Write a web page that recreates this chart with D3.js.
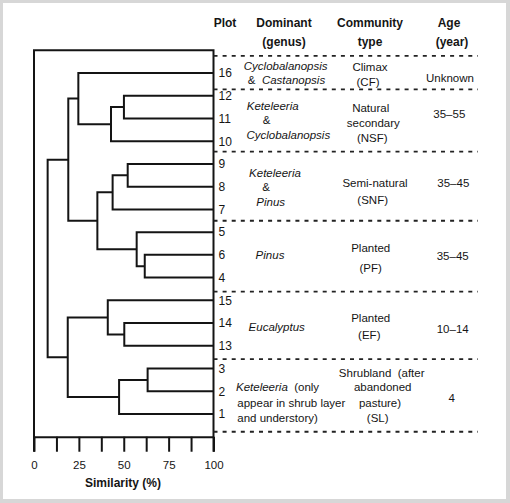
<!DOCTYPE html>
<html><head><meta charset="utf-8">
<script src="https://cdn.jsdelivr.net/npm/d3@7"></script>
<style>
body{margin:0;background:#fff}
text{font-family:"Liberation Sans",Arial,Helvetica,sans-serif;fill:#151515;white-space:pre}
</style>
</head><body>
<svg id="chart" width="510" height="503"></svg>
<script>
// ---------------- DATA ----------------
// leaf order (plot numbers, top to bottom)
const leaves = ["16","12","11","10","9","8","7","5","6","4","15","14","13","3","2","1"];
// cluster merges: [child A, child B, similarity (%)]; "cN" refers to merge N
const merges = [
  ["12","11",50.1],   // c0
  ["c0","10",42.9],   // c1
  ["16","c1",24.7],   // c2
  ["9","8",52.2],     // c3
  ["c3","7",43.8],    // c4
  ["6","4",61.7],     // c5
  ["5","c5",57.2],    // c6
  ["c4","c6",35.3],   // c7
  ["c2","c7",19.1],   // c8
  ["14","13",50.3],   // c9
  ["15","c9",41.1],   // c10
  ["3","2",63.3],     // c11
  ["c11","1",47.4],   // c12
  ["c10","c12",18.8], // c13
  ["c8","c13",7.6]    // c14 (root)
];
const tickValues = [0,12.5,25,37.5,50,62.5,75,87.5,100];
const tickLabels = [0,25,50,75,100];
const headers = [["Plot"],["Dominant","(genus)"],["Community","type"],["Age","(year)"]];
const groupCodes = ["CF","NSF","SNF","PF","EF","SL"];
const groupLeaves = [["16"],["12","11","10"],["9","8","7"],["5","6","4"],["15","14","13"],["3","2","1"]];
// *...* = italic
const dominantText = [
  ["*Cyclobalanopsis*", "&  *Castanopsis*"],
  ["*Keteleeria*", "&", "*Cyclobalanopsis*"],
  ["*Keteleeria*", "&", "*Pinus*"],
  ["*Pinus*"],
  ["*Eucalyptus*"],
  ["*Keteleeria*  (only", "appear in shrub layer", "and understory)"]
];
const communityText = [
  ["Climax","(CF)"],
  ["Natural","secondary","(NSF)"],
  ["Semi-natural","(SNF)"],
  ["Planted","(PF)"],
  ["Planted","(EF)"],
  ["Shrubland  (after","abandoned","pasture)","(SL)"]
];
const ageText = ["Unknown","35–55","35–45","35–45","10–14","4"];

// ---------------- LAYOUT ----------------
const svg = d3.select("#chart");
const W = 510, H = 503;
const ink = "#141414";

// outer grey border
svg.append("rect").attr("width",W).attr("height",H).attr("fill","#d7d7d7");
svg.append("rect").attr("x",3).attr("y",3).attr("width",503).attr("height",496).attr("fill","#fff");

const x = d3.scaleLinear().domain([0,100]).range([34,213.5]);
const y = d3.scalePoint().domain(leaves).range([73,414]);
const step = y.step();
const topY = y(leaves[0]) - step;
const axisY = y(leaves[leaves.length-1]) + step;
const tickLen = 15;

const g = svg.append("g");

// frame (top, left, right) of the dendrogram panel
g.append("path")
  .attr("d",`M${x(0)},${axisY+tickLen}V${topY}H${x(100)}V${axisY+tickLen}`)
  .attr("fill","none").attr("stroke",ink).attr("stroke-width",2);

// axis
const axis = d3.axisBottom(x).tickValues(tickValues).tickSize(tickLen).tickSizeOuter(0).tickPadding(9)
  .tickFormat(d => tickLabels.includes(d) ? d : "");
const ax = g.append("g").attr("transform",`translate(0,${axisY})`).call(axis);
ax.select(".domain").attr("stroke",ink).attr("stroke-width",2);
ax.selectAll(".tick line").attr("stroke",ink).attr("stroke-width",2);
ax.selectAll(".tick text").attr("fill","#151515").style("font-size","11.5px").style("font-family",'"Liberation Sans",Arial,sans-serif');

g.append("text").attr("x",123).attr("y",482.5).attr("dy","0.35em")
  .attr("text-anchor","middle").style("font-size","12px").style("font-weight","bold")
  .text("Similarity (%)");

// dendrogram
const nodes = {};
leaves.forEach(l => nodes[l] = {x:x(100), y:y(l)});
merges.forEach((m,i) => {
  const a = nodes[m[0]], b = nodes[m[1]];
  const nx = x(m[2]);
  g.append("path")
    .attr("d",`M${a.x},${a.y}H${nx}V${b.y}H${b.x}`)
    .attr("fill","none").attr("stroke",ink).attr("stroke-width",2);
  nodes["c"+i] = {x:nx, y:(a.y+b.y)/2};
});

// leaf (plot) labels
g.selectAll(".leaf").data(leaves).join("text").attr("class","leaf")
  .attr("x",218.5).attr("y",d=>y(d)).attr("dy","0.36em")
  .style("font-size","12px").text(d=>d);

// column headers
const colX = [225, 284, 370, 449];
headers.forEach((h,i) => {
  h.forEach((t,j) => {
    g.append("text").attr("x",colX[i] + (i===3 && j===1 ? 3 : 0)).attr("y",23 + j*18.5).attr("dy","0.35em")
      .attr("text-anchor","middle").style("font-size","12px").style("font-weight","bold").text(t);
  });
});

// group separators (fraction of a step after last leaf of each group)
const sepFrac = [0.72, 0.46, 0.5, 0.62, 0.585, 0.78];
const seps = [y(leaves[0]) - 0.75*step].concat(groupLeaves.map((gl,i) => y(gl[gl.length-1]) + sepFrac[i]*step));
g.selectAll(".sep").data(seps).join("line").attr("class","sep")
  .attr("x1",x(100)).attr("x2",478).attr("y1",d=>d).attr("y2",d=>d)
  .attr("stroke","#222").attr("stroke-width",1.8).attr("stroke-dasharray","4,5.1");

// text-layout offsets relative to column centre and group centre
const domX = 280, comX = 372, ageX = 451;
const domOff = [
  [[5.7,-7],[6.5,7.3]],
  [[-7.3,-14.5],[-13.3,-0.5],[8.3,14.5]],
  [[-5,-12.9],[-14,0.5],[-9.3,15.5]],
  [[-10,-1.2]],
  [[-3.3,2]],
  [[-44,-8],[-42.7,8],[-42.7,22.4]]
];
const comOff = [
  [[-2,-6],[-4,9]],
  [[-1.3,-12.2],[1.3,2.8],[0.3,17.2]],
  [[3,-3.5],[0.7,13.8]],
  [[-1.3,-8.2],[-1.3,12.1]],
  [[-1.3,-7],[-2.7,9.7]],
  [[9.7,-22],[10.7,-8],[8,7.4],[5.7,22.4]]
];
const ageOff = [[-1,5],[-1.7,-6.2],[2.3,-3.5],[1.7,-0.2],[1.7,4],[0.7,3]];

function richText(sel, str) {
  const parts = str.split("*");
  parts.forEach((p,i) => {
    if (!p) return;
    sel.append("tspan").style("font-style", i%2===1 ? "italic" : "normal").text(p);
  });
}

groupCodes.forEach((code,gi) => {
  const gc = (seps[gi] + seps[gi+1]) / 2;
  dominantText[gi].forEach((t,li) => {
    const o = domOff[gi][li];
    const anchor = gi === 5 ? "start" : "middle";
    const el = g.append("text").attr("x",domX+o[0]).attr("y",gc+o[1]).attr("dy","0.35em")
      .attr("text-anchor",anchor).style("font-size","11.5px");
    richText(el, t);
  });
  communityText[gi].forEach((t,li) => {
    const o = comOff[gi][li];
    g.append("text").attr("x",comX+o[0]).attr("y",gc+o[1]).attr("dy","0.35em")
      .attr("text-anchor","middle").style("font-size","11.5px").text(t);
  });
  const o = ageOff[gi];
  g.append("text").attr("x",ageX+o[0]).attr("y",gc+o[1]).attr("dy","0.35em")
    .attr("text-anchor","middle").style("font-size","11.5px").text(ageText[gi]);
});
</script>
</body></html>
